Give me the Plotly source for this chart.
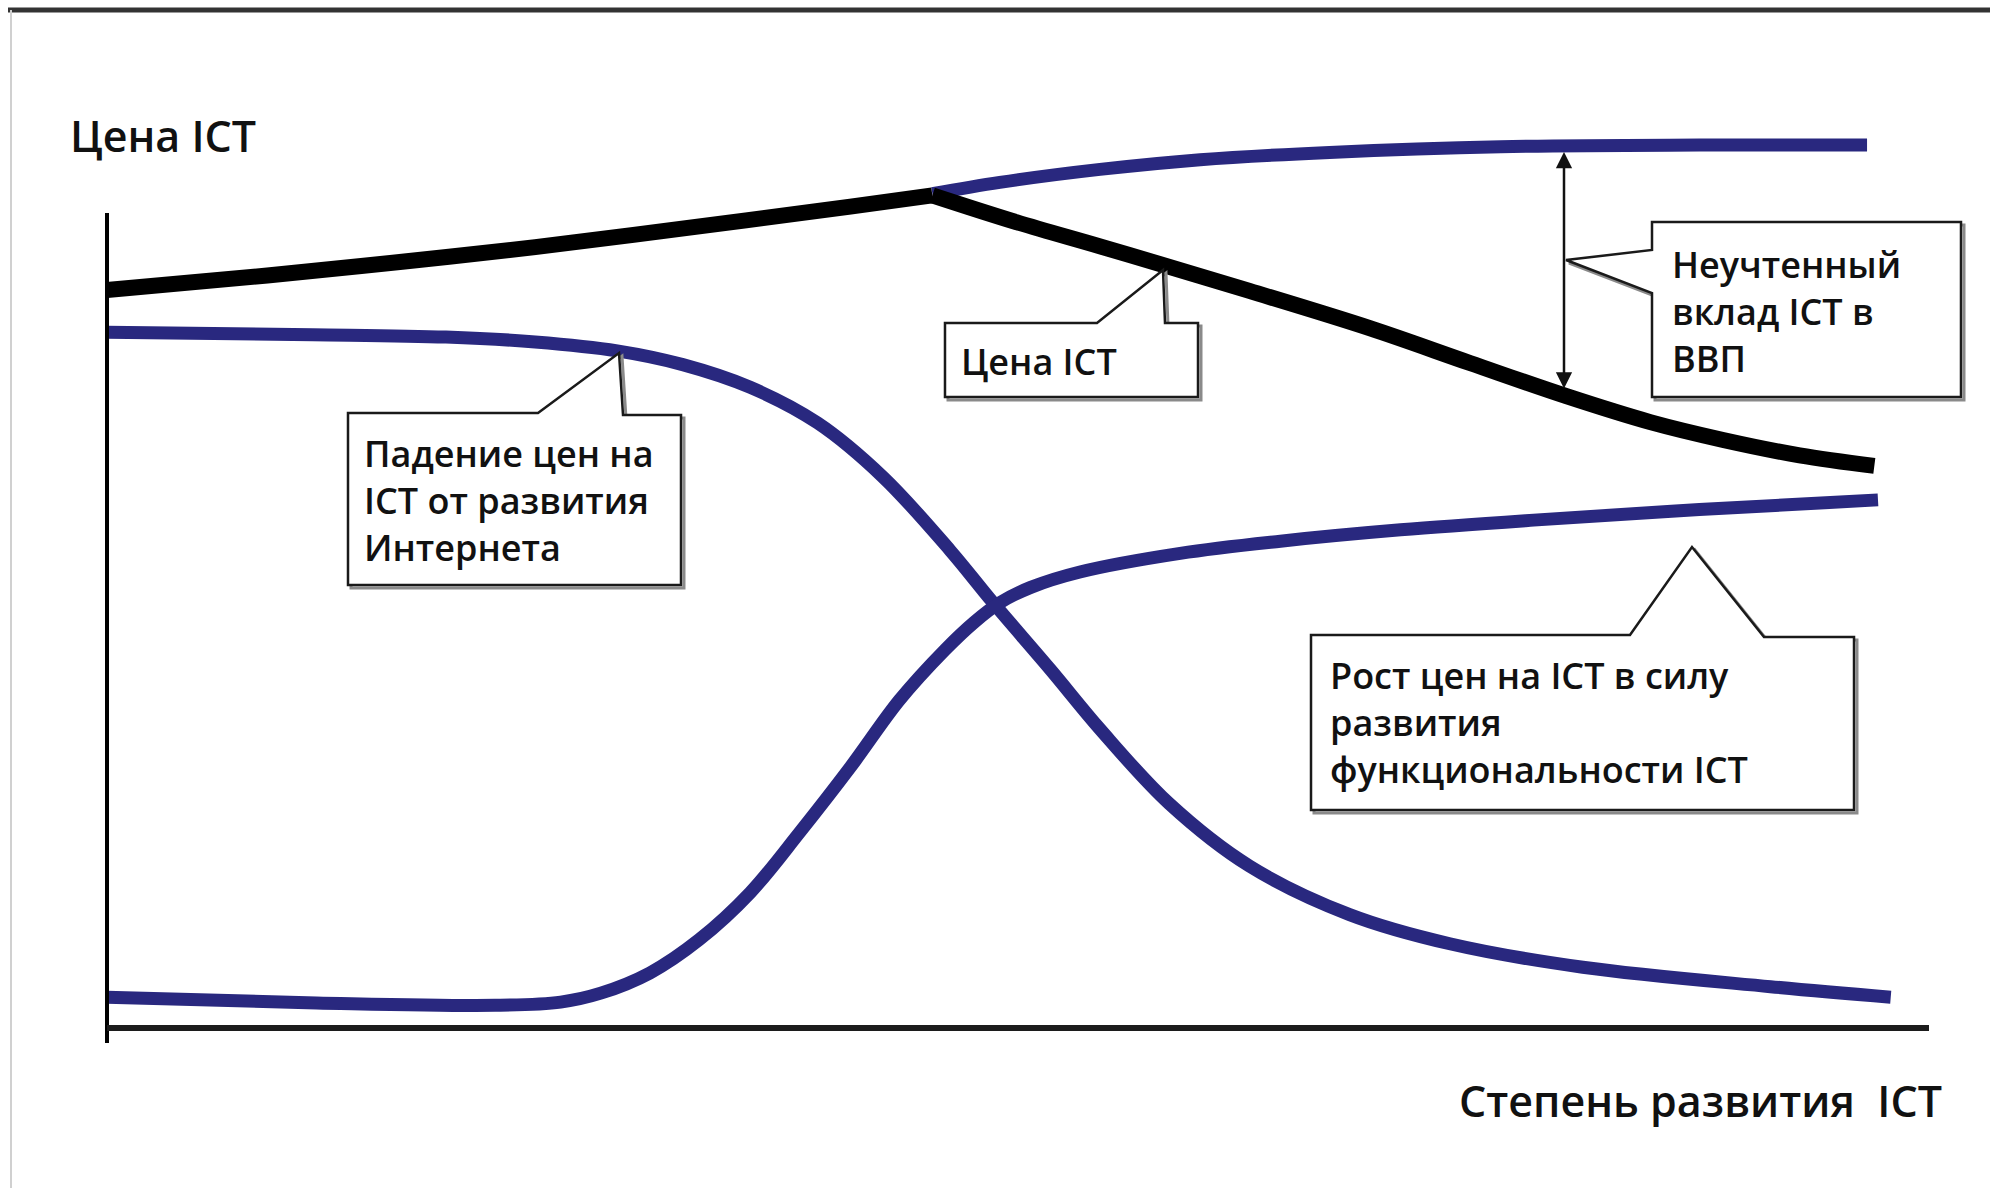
import plotly.graph_objects as go

W, H = 1990, 1188

# conceptual units: x = степень развития ICT (0..100 along the x axis line),
# y = цена ICT (0 at the x axis line, 100 at the top of the y axis line)
X0_PX, X100_PX = 107, 1929
Y0_PX, Y100_PX = 1028, 218

# "Цена ICT" (black) - rising part and falling part
price_up_x = [0, 8.8, 16.2, 23.5, 32.3, 40.8, 45.3]
price_up_y = [91.1, 92.9, 94.6, 96.4, 98.9, 101.4, 102.8]
price_down_x = [45.3, 49.9, 54.5, 57.8, 62.7, 69.3, 74.8, 80.1, 84.7, 88.7, 92.9, 97.0]
price_down_y = [102.8, 99.5, 96.5, 94.3, 91.0, 86.4, 82.1, 78.0, 74.8, 72.6, 70.7, 69.4]

# price without the unaccounted contribution (upper blue branch)
full_x = [45.3, 49.0, 54.5, 60.0, 67.1, 76.5, 87.4, 96.6]
full_y = [103.0, 104.4, 106.0, 107.2, 108.1, 108.8, 109.0, 109.0]

# "Падение цен на ICT от развития Интернета"
fall_x = [0, 11.3, 18.6, 23.5, 28.0, 31.6, 35.3, 39.0, 42.6, 46.3, 48.6, 51.8,
          54.5, 58.3, 62.7, 68.2, 73.7, 81.0, 91.3, 97.9]
fall_y = [85.9, 85.6, 85.3, 84.7, 83.6, 81.9, 79.1, 74.7, 68.0, 58.9, 52.6, 44.2,
          36.9, 27.7, 20.0, 14.0, 10.4, 7.5, 5.1, 3.8]

# "Рост цен на ICT в силу развития функциональности ICT"
rise_x = [0, 11.5, 21.3, 24.9, 27.1, 29.8, 32.5, 35.3, 38.0, 40.8, 43.5, 46.0,
          47.6, 49.0, 50.7, 53.4, 58.9, 64.4, 71.0, 78.3, 87.4, 97.2]
rise_y = [3.8, 3.1, 2.8, 3.2, 4.3, 6.8, 10.9, 16.7, 24.1, 32.2, 40.5, 46.7,
          50.1, 52.5, 54.4, 56.3, 58.6, 60.1, 61.5, 62.7, 64.0, 65.2]

y_title = "Цена ICT"
x_title = "Степень развития  ICT"
label_fall = "Падение цен на<br>ICT от развития<br>Интернета"
label_price = "Цена ICT"
label_gap = "Неучтенный<br>вклад ICT в<br>ВВП"
label_rise = "Рост цен на ICT в силу<br>развития<br>функциональности ICT"

BLUE = "#29287f"
INK = "#111111"


def sx(px):
    return (px - X0_PX) * 100.0 / (X100_PX - X0_PX)


def sy(py):
    return (Y0_PX - py) * 100.0 / (Y0_PX - Y100_PX)


def path(points, dx=0, dy=0):
    parts = []
    for i, (px, py) in enumerate(points):
        parts.append(("M" if i == 0 else "L") + f"{sx(px + dx):.3f},{sy(py + dy):.3f}")
    return " ".join(parts) + " Z"


fig = go.Figure()

def add_line(xs, ys, color, width):
    fig.add_trace(go.Scatter(x=xs, y=ys, mode="lines",
                             line=dict(color=color, width=width, shape="spline", smoothing=1.0),
                             hoverinfo="skip", showlegend=False))

add_line(fall_x, fall_y, BLUE, 13)
add_line(rise_x, rise_y, BLUE, 13)
add_line(full_x, full_y, BLUE, 13)
add_line(price_up_x, price_up_y, "#000000", 16)
add_line(price_down_x, price_down_y, "#000000", 16)

shapes = []
# frame of the picture
shapes.append(dict(type="line", xref="paper", yref="paper", x0=8 / W, x1=1, y0=1 - 10 / H, y1=1 - 10 / H,
                   line=dict(color="#333333", width=5)))
shapes.append(dict(type="line", xref="paper", yref="paper", x0=11 / W, x1=11 / W, y0=0, y1=1 - 10 / H,
                   line=dict(color="#d0d0d0", width=2)))
# axes
shapes.append(dict(type="line", x0=0, x1=0, y0=sy(1043), y1=sy(213), line=dict(color="#000000", width=4)))
shapes.append(dict(type="line", x0=0, x1=100, y0=0, y1=0, line=dict(color="#1c1c1c", width=6)))

callouts = [
    [(348, 413), (538, 413), (619, 353), (623, 415), (681, 415), (681, 585), (348, 585)],
    [(945, 323), (1097, 323), (1163, 270), (1165, 323), (1198, 323), (1198, 397), (945, 397)],
    [(1652, 222), (1961, 222), (1961, 397), (1652, 397), (1652, 293), (1566, 260), (1652, 250)],
    [(1311, 635), (1630, 635), (1692, 547), (1764, 637), (1854, 637), (1854, 810), (1311, 810)],
]
for pts in callouts:
    shapes.append(dict(type="path", path=path(pts, 3, 3), line=dict(color="#8a8a8a", width=3),
                       fillcolor="rgba(0,0,0,0)"))
    shapes.append(dict(type="path", path=path(pts), line=dict(color="#1a1a1a", width=2.5),
                       fillcolor="white"))

annotations = []
box_font = dict(family="Open Sans", size=36, color=INK, weight=600)
for text, px, py in [(label_fall, 362, 500), (label_price, 959, 361),
                     (label_gap, 1670, 311), (label_rise, 1328, 722)]:
    annotations.append(dict(x=sx(px), y=sy(py), text=text, showarrow=False, xanchor="left",
                            yanchor="middle", align="left", font=box_font))

title_font = dict(family="Open Sans", size=43, color=INK, weight=600)
annotations.append(dict(x=sx(68), y=sy(135), text=y_title, showarrow=False, xanchor="left",
                        yanchor="middle", font=title_font))
annotations.append(dict(x=sx(1944), y=sy(1100), text=x_title, showarrow=False, xanchor="right",
                        yanchor="middle", font=title_font))

# double arrow: unaccounted contribution between the two price curves
annotations.append(dict(x=sx(1564), y=sy(152), ax=sx(1564), ay=sy(390), axref="x", ayref="y",
                        text="", showarrow=True, arrowside="end+start", arrowhead=2,
                        startarrowhead=2, arrowsize=1.3, startarrowsize=1.3,
                        arrowwidth=2.5, arrowcolor="#111111"))

fig.update_layout(
    width=W, height=H,
    margin=dict(l=0, r=0, t=0, b=0),
    paper_bgcolor="white", plot_bgcolor="white",
    xaxis=dict(range=[sx(0), sx(W)], visible=False, fixedrange=True),
    yaxis=dict(range=[sy(H), sy(0)], visible=False, fixedrange=True),
    shapes=shapes, annotations=annotations,
)

fig.write_html("out.html", config=dict(displayModeBar=False),
               post_script="document.body.style.margin = '0px';")
